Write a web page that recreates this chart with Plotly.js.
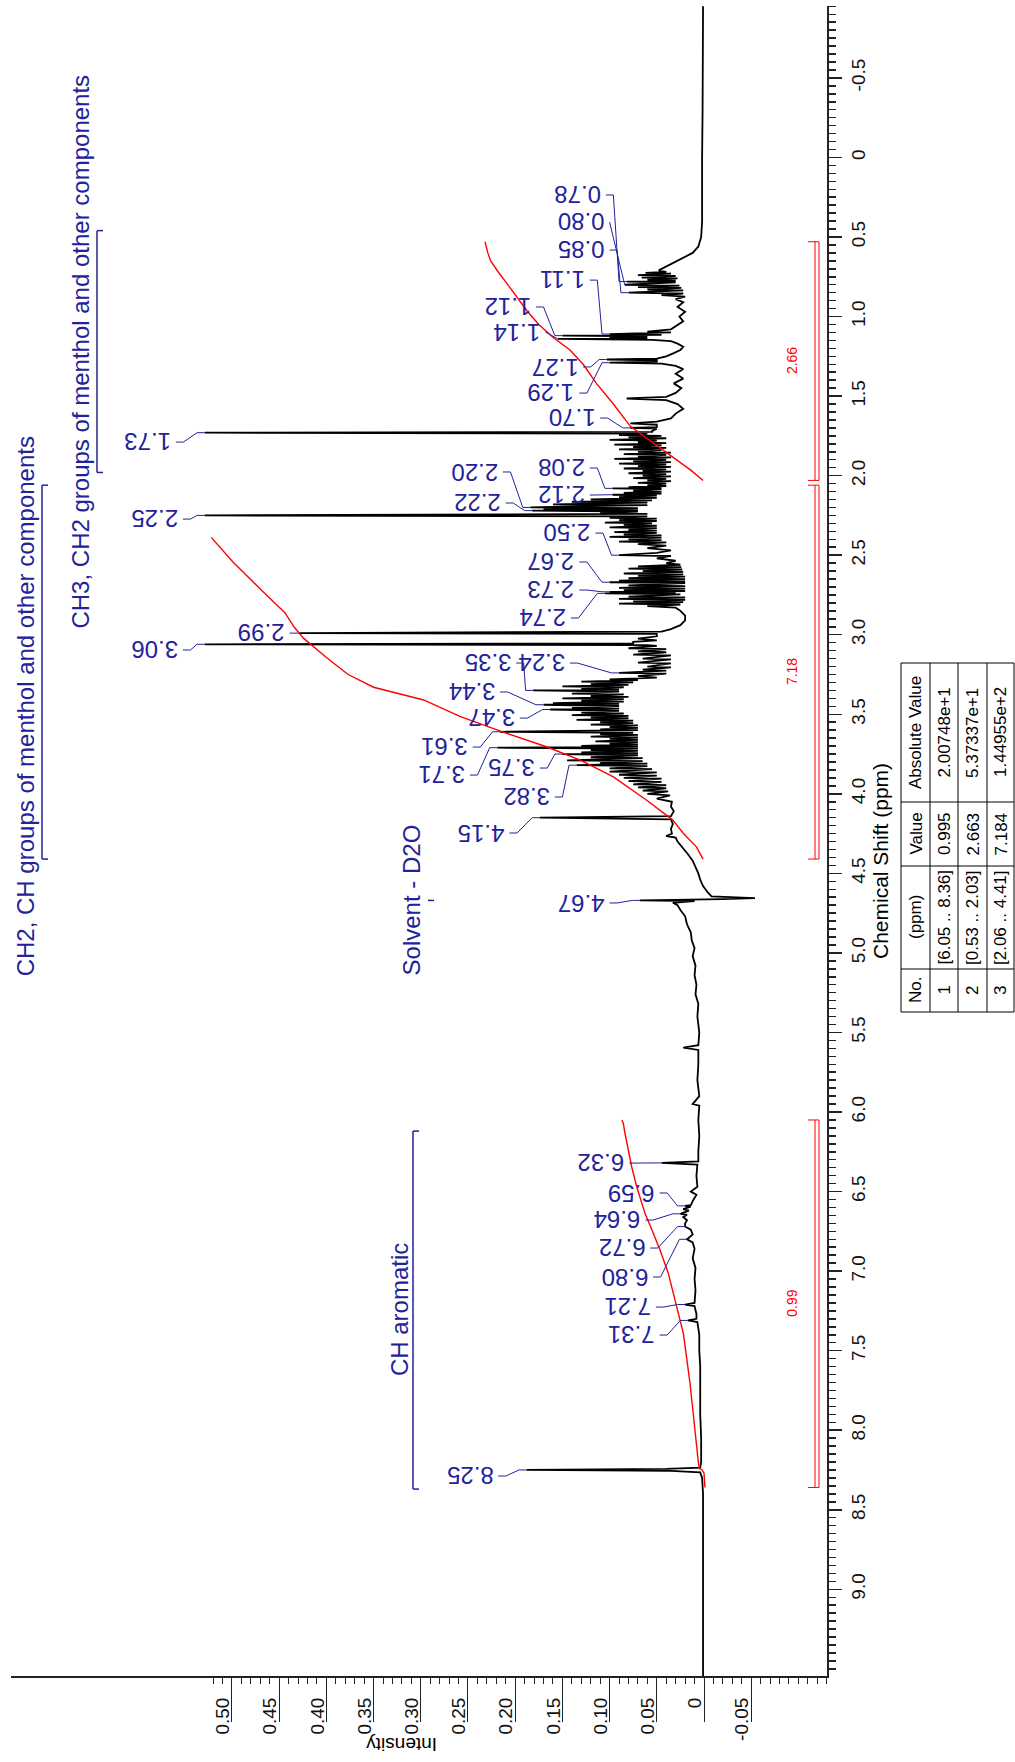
<!DOCTYPE html>
<html><head><meta charset="utf-8">
<script src="https://cdn.plot.ly/plotly-3.0.1.min.js"></script>
<style>html,body{margin:0;padding:0;background:#fff;} #chart{width:1015px;height:1762px;}</style>
</head><body><div id="chart"></div>
<script>
// ---------------- DATA ----------------
// spectrum outline: [chemical shift ppm, intensity]
const spectrum = [
[-0.95,0.001],[-0.6,0.001],[-0.3,0.0015],[0.0,0.002],[0.2,0.002],[0.4,0.002],[0.5,0.003],[0.56,0.006],[0.60,0.012],[0.63,0.022],[0.66,0.032],[0.69,0.042],[0.71,0.048],
[0.72,0.040],[0.725,0.062],[0.73,0.035],[0.74,0.070],[0.745,0.030],[0.755,0.066],[0.76,0.028],[0.77,0.06],[0.775,0.03],[0.78,0.082],[0.785,0.03],[0.80,0.084],[0.805,0.026],[0.815,0.07],[0.82,0.024],[0.83,0.06],[0.835,0.022],[0.85,0.080],[0.855,0.022],[0.865,0.045],[0.875,0.020],[0.89,0.030],[0.91,0.022],[0.94,0.028],[0.97,0.020],[1.0,0.026],[1.03,0.022],[1.06,0.03],[1.08,0.035],
[1.095,0.06],[1.10,0.035],[1.11,0.10],[1.115,0.045],[1.12,0.15],[1.125,0.06],[1.13,0.10],[1.135,0.06],[1.14,0.155],[1.146,0.055],[1.155,0.035],[1.17,0.028],[1.19,0.022],[1.21,0.025],[1.23,0.032],[1.25,0.04],
[1.264,0.05],[1.27,0.103],[1.276,0.05],[1.284,0.05],[1.29,0.10],[1.296,0.045],[1.31,0.03],[1.33,0.022],[1.36,0.03],[1.39,0.022],[1.42,0.032],[1.45,0.024],[1.48,0.03],[1.505,0.04],[1.515,0.082],[1.525,0.04],[1.55,0.028],[1.58,0.022],[1.61,0.03],[1.64,0.035],[1.66,0.05],[1.672,0.078],[1.68,0.05],[1.695,0.05],[1.70,0.078],[1.705,0.05],[1.72,0.055],[1.725,0.055],[1.73,0.529],[1.735,0.06],
[1.745,0.09],[1.75,0.045],[1.76,0.08],[1.765,0.04],[1.775,0.10],[1.78,0.05],[1.79,0.07],[1.795,0.04],[1.805,0.095],[1.81,0.045],[1.82,0.075],[1.825,0.04],[1.835,0.09],[1.84,0.045],[1.85,0.07],[1.855,0.035],[1.865,0.085],[1.87,0.04],[1.88,0.07],[1.885,0.035],[1.895,0.095],[1.90,0.04],[1.91,0.075],[1.915,0.035],[1.925,0.09],[1.93,0.04],[1.94,0.07],[1.945,0.035],[1.955,0.085],[1.96,0.04],[1.97,0.065],[1.975,0.035],[1.985,0.08],[1.99,0.04],[2.0,0.065],[2.005,0.035],[2.015,0.075],[2.02,0.04],[2.03,0.06],[2.035,0.035],[2.045,0.07],[2.05,0.04],[2.06,0.06],
[2.065,0.04],[2.072,0.08],[2.076,0.045],[2.08,0.097],[2.085,0.045],[2.095,0.075],[2.10,0.045],[2.108,0.085],[2.113,0.045],[2.12,0.097],[2.125,0.05],[2.135,0.09],[2.14,0.05],[2.15,0.12],[2.155,0.055],[2.165,0.14],[2.17,0.06],[2.18,0.16],[2.185,0.06],[2.195,0.15],[2.20,0.184],[2.205,0.07],[2.212,0.17],[2.216,0.07],[2.22,0.182],[2.226,0.07],[2.235,0.11],[2.24,0.06],[2.25,0.529],[2.256,0.06],
[2.265,0.10],[2.27,0.05],[2.28,0.09],[2.285,0.05],[2.295,0.105],[2.30,0.055],[2.31,0.085],[2.315,0.05],[2.325,0.10],[2.33,0.05],[2.34,0.08],[2.345,0.05],[2.355,0.095],[2.36,0.05],[2.37,0.085],[2.375,0.045],[2.385,0.10],[2.39,0.045],[2.40,0.08],[2.405,0.045],[2.415,0.09],[2.42,0.04],[2.43,0.07],[2.44,0.04],[2.455,0.06],[2.47,0.035],[2.485,0.05],[2.50,0.09],[2.505,0.035],[2.52,0.05],[2.535,0.03],[2.55,0.04],
[2.56,0.025],[2.57,0.07],[2.575,0.024],[2.585,0.08],[2.59,0.023],[2.60,0.065],[2.605,0.022],[2.615,0.085],[2.62,0.022],[2.63,0.07],[2.635,0.02],[2.645,0.08],[2.65,0.02],[2.66,0.09],[2.665,0.02],[2.67,0.10],[2.676,0.02],[2.69,0.08],[2.695,0.02],[2.705,0.09],[2.71,0.02],[2.72,0.085],[2.725,0.02],[2.73,0.10],[2.735,0.03],[2.74,0.105],[2.746,0.025],[2.76,0.08],[2.765,0.02],[2.775,0.09],[2.78,0.02],[2.79,0.075],[2.795,0.022],[2.805,0.09],[2.81,0.025],[2.82,0.06],[2.83,0.03],
[2.85,0.025],[2.88,0.02],[2.91,0.02],[2.94,0.025],[2.965,0.035],[2.98,0.045],[2.99,0.428],[2.995,0.05],[3.01,0.05],[3.025,0.07],[3.035,0.05],[3.045,0.075],[3.055,0.075],[3.06,0.529],[3.065,0.06],
[3.07,0.05],[3.085,0.08],[3.09,0.04],[3.105,0.07],[3.11,0.04],[3.125,0.075],[3.13,0.035],[3.15,0.065],[3.155,0.035],[3.175,0.07],[3.18,0.035],[3.2,0.06],[3.205,0.035],[3.22,0.065],[3.225,0.04],[3.24,0.09],[3.245,0.04],[3.26,0.07],[3.27,0.05],
[3.28,0.10],[3.285,0.07],[3.295,0.13],[3.30,0.075],[3.31,0.12],[3.315,0.08],[3.325,0.15],[3.33,0.085],[3.34,0.13],[3.345,0.09],[3.35,0.181],[3.358,0.09],[3.37,0.14],[3.375,0.085],[3.385,0.12],[3.39,0.08],[3.40,0.15],[3.405,0.085],[3.415,0.13],[3.42,0.085],[3.43,0.16],[3.435,0.09],[3.44,0.17],[3.448,0.09],[3.46,0.14],[3.465,0.09],[3.47,0.163],[3.478,0.09],[3.49,0.13],[3.495,0.085],[3.505,0.14],[3.51,0.08],[3.52,0.12],[3.525,0.08],[3.535,0.135],[3.54,0.075],[3.55,0.11],[3.555,0.075],[3.565,0.12],[3.57,0.07],[3.58,0.10],[3.585,0.07],[3.595,0.11],[3.60,0.07],[3.61,0.216],[3.616,0.075],
[3.625,0.11],[3.63,0.07],[3.64,0.12],[3.645,0.07],[3.655,0.10],[3.66,0.07],[3.67,0.115],[3.675,0.07],[3.685,0.10],[3.69,0.07],[3.698,0.13],[3.703,0.07],[3.71,0.219],[3.716,0.07],[3.725,0.12],[3.73,0.07],[3.74,0.13],[3.745,0.07],[3.75,0.15],[3.758,0.07],[3.77,0.12],[3.775,0.065],[3.79,0.145],[3.795,0.065],[3.805,0.11],[3.81,0.06],[3.82,0.135],[3.826,0.06],[3.84,0.10],[3.845,0.055],[3.86,0.10],[3.865,0.05],[3.88,0.09],[3.885,0.05],[3.90,0.085],[3.905,0.045],[3.92,0.08],[3.925,0.045],[3.94,0.075],[3.945,0.04],[3.96,0.07],[3.965,0.04],[3.98,0.065],[3.985,0.038],[4.0,0.06],[4.01,0.036],[4.03,0.05],[4.05,0.034],[4.08,0.035],[4.11,0.032],[4.14,0.035],[4.15,0.174],[4.16,0.035],[4.19,0.033],[4.22,0.035],[4.25,0.034],[4.265,0.04],[4.275,0.03],[4.30,0.028],[4.34,0.022],[4.38,0.017],[4.42,0.012],[4.46,0.009],[4.50,0.006],[4.54,0.004],[4.58,0.001],[4.62,-0.004],[4.645,-0.008],[4.655,-0.054],[4.662,-0.02],[4.67,0.068],[4.675,0.01],[4.685,0.033],[4.70,0.028],[4.73,0.025],[4.77,0.02],[4.82,0.018],[4.87,0.014],[4.92,0.013],[4.97,0.01],[5.02,0.012],[5.08,0.009],[5.14,0.01],[5.2,0.008],[5.26,0.009],[5.32,0.006],[5.4,0.007],[5.5,0.005],[5.58,0.006],[5.595,0.022],[5.61,0.006],[5.7,0.006],[5.8,0.007],[5.9,0.005],[5.95,0.012],[5.96,0.005],[6.05,0.006],[6.15,0.005],[6.25,0.006],[6.31,0.006],[6.32,0.045],[6.33,0.007],[6.4,0.008],[6.47,0.007],[6.5,0.014],[6.52,0.008],[6.56,0.012],[6.585,0.014],[6.59,0.02],[6.595,0.014],[6.61,0.022],[6.62,0.016],[6.64,0.025],[6.645,0.018],[6.66,0.022],[6.68,0.018],[6.70,0.02],[6.72,0.02],[6.74,0.014],[6.77,0.012],[6.80,0.018],[6.82,0.012],[6.86,0.01],[6.92,0.012],[6.98,0.009],[7.05,0.01],[7.12,0.009],[7.2,0.01],[7.21,0.02],[7.22,0.01],[7.27,0.008],[7.3,0.008],[7.31,0.017],[7.32,0.007],[7.4,0.005],[7.5,0.005],[7.6,0.004],[7.75,0.004],[7.9,0.004],[8.05,0.003],[8.2,0.003],[8.235,0.004],[8.243,0.04],[8.25,0.188],[8.256,0.035],[8.265,0.004],[8.3,0.002],[8.4,0.001],[8.6,0.001],[8.8,0.001],[9.0,0.001],[9.2,0.001],[9.55,0.001]
];

// integral curves: [ppm, intensity]
const integral1 = [[6.05,0.087],[6.071,0.0855],[6.134,0.0837],[6.344,0.0766],[6.47,0.0713],[6.637,0.0625],[6.762,0.0537],[6.867,0.0466],[7.014,0.0378],[7.18,0.0307],[7.39,0.0219],[7.705,0.0148],[8.124,0.0078],[8.20,0.006],[8.24,0.005],[8.25,0.002],[8.27,0.0],[8.36,-0.001]];
const integral2 = [[0.53,0.232],[0.60,0.229],[0.65,0.226],[0.72,0.218],[0.79,0.209],[0.88,0.198],[0.96,0.188],[1.05,0.175],[1.13,0.16],[1.21,0.142],[1.30,0.128],[1.42,0.114],[1.55,0.096],[1.69,0.078],[1.78,0.057],[1.90,0.029],[1.97,0.013],[2.03,0.001]];
const integral3 = [[2.388,0.522],[2.543,0.499],[2.719,0.469],[2.861,0.444],[2.953,0.434],[3.023,0.424],[3.143,0.40],[3.25,0.377],[3.33,0.35],[3.41,0.297],[3.515,0.258],[3.62,0.209],[3.704,0.167],[3.788,0.131],[3.893,0.096],[4.039,0.061],[4.165,0.033],[4.248,0.022],[4.333,0.008],[4.41,0.001]];
const integralStart = [6.05, 0.53, 2.06];
const integralEnd   = [8.36, 2.03, 4.41];
const integralLabel = ['0.99', '2.66', '7.18'];

// peak picking
const peakPpm   = [0.78,0.80,0.85,1.11,1.12,1.14,1.27,1.29,1.70,1.73,2.08,2.20,2.12,2.22,2.25,2.50,2.67,2.73,2.74,2.99,3.06,3.24,3.35,3.44,3.47,3.61,3.71,3.75,3.82,4.15,4.67,6.32,6.59,6.64,6.72,6.80,7.21,7.31,8.25];
const peakTop   = [0.082,0.084,0.080,0.10,0.15,0.155,0.103,0.10,0.078,0.529,0.097,0.184,0.097,0.182,0.529,0.09,0.10,0.10,0.105,0.428,0.529,0.09,0.181,0.17,0.163,0.216,0.219,0.15,0.135,0.174,0.068,0.045,0.02,0.025,0.02,0.018,0.02,0.017,0.188];
const labelPpm  = [0.236,0.406,0.582,0.771,0.940,1.097,1.317,1.481,1.638,1.789,1.952,1.977,2.122,2.172,2.273,2.361,2.543,2.719,2.895,2.990,3.096,3.178,3.178,3.360,3.524,3.706,3.882,3.838,4.020,4.246,4.686,6.321,6.509,6.679,6.855,7.037,7.226,7.402,8.288];
const labelInt  = [0.107,0.103,0.103,0.124,0.181,0.171,0.131,0.135,0.113,0.5625,0.124,0.216,0.124,0.213,0.555,0.118,0.135,0.135,0.144,0.442,0.555,0.145,0.202,0.219,0.198,0.248,0.251,0.177,0.161,0.209,0.103,0.082,0.050,0.065,0.060,0.057,0.054,0.050,0.221];

// region annotations
const regionText  = ['CH2, CH groups of menthol and other components','CH3, CH2 groups of menthol and other components','Solvent - D2O','CH aromatic'];
const regionStart = [2.06, 0.46, 4.67, 6.12];
const regionEnd   = [4.41, 1.98, 4.67, 8.37];
const regionTextPpm = [3.45, 1.22, 4.67, 7.245];

// axes ticks
const xTickVals = [0.50,0.45,0.40,0.35,0.30,0.25,0.20,0.15,0.10,0.05,0,-0.05];
const xTickText = ['0.50','0.45','0.40','0.35','0.30','0.25','0.20','0.15','0.10','0.05','0','-0.05'];
const yTickVals = [-0.5,0,0.5,1,1.5,2,2.5,3,3.5,4,4.5,5,5.5,6,6.5,7,7.5,8,8.5,9];
const yTickText = ['-0.5','0','0.5','1.0','1.5','2.0','2.5','3.0','3.5','4.0','4.5','5.0','5.5','6.0','6.5','7.0','7.5','8.0','8.5','9.0'];

// integration table
const tableHeader = ['No.','(ppm)','Value','Absolute Value'];
const tableRows = [
  ['1','[6.05 .. 8.36]','0.995','2.00748e+1'],
  ['2','[0.53 .. 2.03]','2.663','5.37337e+1'],
  ['3','[2.06 .. 4.41]','7.184','1.44955e+2']
];

// ---------------- LAYOUT HELPERS ----------------
const W=1015, H=1762, L=11, R=188, T=6, B=86;
const PW=W-L-R, PH=H-T-B;
const px = x => (x-L)/PW;
const py = y => 1-(y-T)/PH;
const FONT = 'Liberation Sans, Arial, sans-serif';
const BLUE = '#22229a';
const RED = '#ff0000';

const traces = [];
traces.push({x: spectrum.map(p=>p[1]), y: spectrum.map(p=>p[0]), type:'scatter', mode:'lines',
  line:{color:'#000', width:1.8}, hoverinfo:'skip'});
[integral1, integral2, integral3].forEach(ig => traces.push({
  x: ig.map(p=>p[1]), y: ig.map(p=>p[0]), type:'scatter', mode:'lines',
  line:{color:RED, width:1.4}, hoverinfo:'skip'}));

// leader lines
const lx=[], ly=[];
for (let i=0;i<peakPpm.length;i++){
  const a = labelInt[i]-0.003, b = labelInt[i]-0.011, c = peakTop[i]+0.008, d = peakTop[i];
  if (b > c) { lx.push(a,b,c,d); ly.push(labelPpm[i],labelPpm[i],peakPpm[i],peakPpm[i]); }
  else { lx.push(a,d); ly.push(labelPpm[i],peakPpm[i]); }
  lx.push(null); ly.push(null);
}
traces.push({x:lx, y:ly, type:'scatter', mode:'lines', line:{color:BLUE, width:1}, hoverinfo:'skip', connectgaps:false});

const annotations = [];
peakPpm.forEach((p,i)=>annotations.push({x:labelInt[i], y:labelPpm[i], xref:'x', yref:'y',
  text:p.toFixed(2), textangle:180, showarrow:false, xanchor:'right', yanchor:'middle',
  font:{family:FONT, size:24, color:BLUE}}));

const shapes = [];
// region brackets
const regionLineX = [42, 97, 428, 413];
const regionTextX = [25, 81, 411, 399];
regionText.forEach((t,i)=>{
  const xl = px(regionLineX[i]), xc = px(regionLineX[i]+6);
  if (regionStart[i] !== regionEnd[i]) {
    shapes.push({type:'line', xref:'paper', yref:'y', x0:xl, x1:xl, y0:regionStart[i], y1:regionEnd[i], line:{color:BLUE, width:1.5}});
    shapes.push({type:'line', xref:'paper', yref:'y', x0:xl, x1:xc, y0:regionStart[i], y1:regionStart[i], line:{color:BLUE, width:1.5}});
    shapes.push({type:'line', xref:'paper', yref:'y', x0:xl, x1:xc, y0:regionEnd[i], y1:regionEnd[i], line:{color:BLUE, width:1.5}});
  } else {
    shapes.push({type:'line', xref:'paper', yref:'y', x0:xl, x1:xc, y0:regionStart[i], y1:regionStart[i], line:{color:BLUE, width:1.5}});
  }
  annotations.push({x:px(regionTextX[i]), y:regionTextPpm[i], xref:'paper', yref:'y',
    text:t, textangle:-90, showarrow:false, xanchor:'center', yanchor:'middle',
    font:{family:FONT, size:24, color:BLUE}});
});

// integral brackets
integralStart.forEach((s,i)=>{
  const e = integralEnd[i];
  [815, 819].forEach(xx => shapes.push({type:'line', xref:'paper', yref:'y', x0:px(xx), x1:px(xx), y0:s, y1:e, line:{color:RED, width:1}}));
  [s, e].forEach(yy => shapes.push({type:'line', xref:'paper', yref:'y', x0:px(808), x1:px(819), y0:yy, y1:yy, line:{color:RED, width:1}}));
  annotations.push({x:px(792), y:(s+e)/2, xref:'paper', yref:'y', text:integralLabel[i], textangle:-90,
    showarrow:false, xanchor:'center', yanchor:'middle', font:{family:FONT, size:14, color:RED}});
});

// table
const rowEdges = [901, 930, 958, 987, 1014];
const colEdges = [663, 802, 866, 969, 1012];
shapes.push({type:'rect', xref:'paper', yref:'paper', x0:px(rowEdges[0]), x1:px(rowEdges[4]), y0:py(colEdges[0]), y1:py(colEdges[4]), line:{color:'#000', width:1}});
for (let k=1;k<4;k++){
  shapes.push({type:'line', xref:'paper', yref:'paper', x0:px(rowEdges[k]), x1:px(rowEdges[k]), y0:py(colEdges[0]), y1:py(colEdges[4]), line:{color:'#000', width:1}});
  shapes.push({type:'line', xref:'paper', yref:'paper', x0:px(rowEdges[0]), x1:px(rowEdges[4]), y0:py(colEdges[k]), y1:py(colEdges[k]), line:{color:'#000', width:1}});
}
const allRows = [tableHeader].concat(tableRows);
const colCenterY = [ (colEdges[3]+colEdges[4])/2, (colEdges[2]+colEdges[3])/2, (colEdges[1]+colEdges[2])/2, (colEdges[0]+colEdges[1])/2 ];
allRows.forEach((row,r)=>{
  const cx = (rowEdges[r]+rowEdges[r+1])/2;
  row.forEach((t,c)=>annotations.push({x:px(cx), y:py(colCenterY[c]), xref:'paper', yref:'paper', text:t, textangle:-90,
    showarrow:false, xanchor:'center', yanchor:'middle', font:{family:FONT, size:17, color:'#000'}}));
});

// axis titles
annotations.push({x:px(880), y:py(861), xref:'paper', yref:'paper', text:'Chemical Shift (ppm)', textangle:-90,
  showarrow:false, xanchor:'center', yanchor:'middle', font:{family:FONT, size:21, color:'#000'}});
annotations.push({x:px(402), y:py(1745), xref:'paper', yref:'paper', text:'Intensity', textangle:180,
  showarrow:false, xanchor:'center', yanchor:'middle', font:{family:FONT, size:19, color:'#000'}});

const minorX = [];
for (let k=-13;k<=52;k++) minorX.push(k/100);

const layout = {
  width:W, height:H, margin:{l:L, r:R, t:T, b:B}, paper_bgcolor:'#fff', plot_bgcolor:'#fff',
  showlegend:false, font:{family:FONT, color:'#000'},
  xaxis:{range:[0.7341,-0.1303], tickmode:'array', tickvals:xTickVals, ticktext:xTickText, ticks:'outside', ticklen:44,
    tickwidth:1, tickcolor:'#222', showline:true, linewidth:2, linecolor:'#222', zeroline:false, showgrid:false,
    tickangle:-90, tickfont:{family:FONT, size:19, color:'#111'}, ticklabelshift:9, ticklabelstandoff:-32,
    minor:{tickmode:'array', tickvals:minorX, ticks:'outside', ticklen:6, tickcolor:'#222', tickwidth:1}},
  yaxis:{range:[9.545,-0.952], side:'right', tickmode:'array', tickvals:yTickVals, ticktext:yTickText, ticks:'outside', ticklen:13,
    tickwidth:1.5, tickcolor:'#222', showline:true, linewidth:2, linecolor:'#222', zeroline:false, showgrid:false,
    tickangle:-90, tickfont:{family:FONT, size:19, color:'#111'},
    minor:{tick0:0, dtick:0.05, ticks:'outside', ticklen:7, tickcolor:'#222', tickwidth:1.5}},
  annotations:annotations, shapes:shapes
};
Plotly.newPlot('chart', traces, layout, {displayModeBar:false, staticPlot:true});
</script></body></html>
